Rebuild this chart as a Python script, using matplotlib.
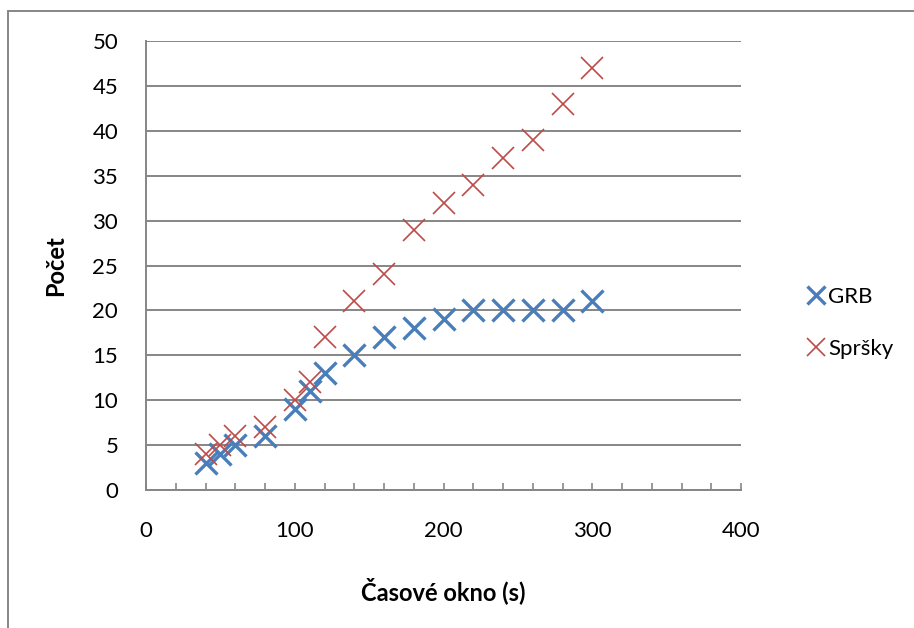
import matplotlib.pyplot as plt
from matplotlib.patches import Rectangle
from matplotlib.ticker import MultipleLocator

plt.rcParams['font.family'] = ['Lato', 'DejaVu Sans']

# časové okno (s) a počty událostí
okno = [40, 50, 60, 80, 100, 110, 120, 140, 160, 180, 200, 220, 240, 260, 280, 300]
grb = [3, 4, 5, 6, 9, 11, 13, 15, 17, 18, 19, 20, 20, 20, 20, 21]
sprsky = [4, 5, 6, 7, 10, 12, 17, 21, 24, 29, 32, 34, 37, 39, 43, 47]

modra = '#4a7ebb'
cervena = '#be4b48'
seda = '#868686'

fig = plt.figure(figsize=(9.14, 6.28), dpi=100)
ax = fig.add_axes([146 / 914, 1 - 490 / 628, 595 / 914, 449 / 628])

ax.plot(okno, grb, linestyle='none', marker='x', ms=16, mew=2.4,
        color=modra, label='GRB', zorder=3)
ax.plot(okno, sprsky, linestyle='none', marker='x', ms=16, mew=1.2,
        color=cervena, label='Spršky', zorder=4)

ax.set_xlim(0, 400)
ax.set_ylim(0, 50)
ax.xaxis.set_major_locator(MultipleLocator(100))
ax.xaxis.set_minor_locator(MultipleLocator(20))
ax.yaxis.set_major_locator(MultipleLocator(5))

ax.grid(axis='y', color=seda, lw=1.4)
ax.set_axisbelow(True)
for side in ['top', 'right']:
    ax.spines[side].set_visible(False)
for side in ['left', 'bottom']:
    ax.spines[side].set_color(seda)
    ax.spines[side].set_linewidth(1.4)

ax.tick_params(axis='x', which='both', direction='in', length=5, width=1.2,
               color=seda, labelsize=16, pad=22)
ax.tick_params(axis='y', length=0, labelsize=16, pad=20)

ax.set_xlabel('Časové okno (s)', fontsize=17, fontweight='bold', labelpad=26)
ax.set_ylabel('Počet', fontsize=17, fontweight='bold', labelpad=18)

ax.legend(loc='center left', bbox_to_anchor=(796 / 914, 1 - 323 / 628),
          bbox_transform=fig.transFigure, frameon=False, fontsize=16,
          handlelength=0.8, handletextpad=0.15, labelspacing=1.45,
          borderpad=0, markerscale=0.8)

# rámeček grafu
fig.add_artist(Rectangle((8 / 914, -0.1), 1.2, 1.1 - 11 / 628,
                         transform=fig.transFigure, fill=False,
                         edgecolor=seda, lw=1.4))

fig.savefig('out.png', dpi=100)
